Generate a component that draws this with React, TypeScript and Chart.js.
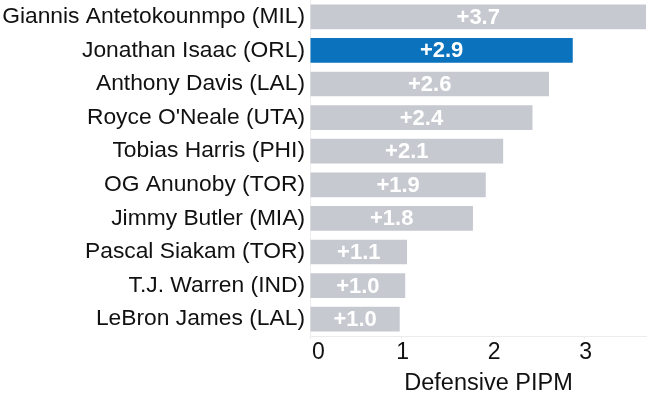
import React, { useEffect, useRef } from "react";
import { Chart, registerables } from "chart.js";

Chart.register(...registerables);

const players = [
  "Giannis Antetokounmpo (MIL)",
  "Jonathan Isaac (ORL)",
  "Anthony Davis (LAL)",
  "Royce O'Neale (UTA)",
  "Tobias Harris (PHI)",
  "OG Anunoby (TOR)",
  "Jimmy Butler (MIA)",
  "Pascal Siakam (TOR)",
  "T.J. Warren (IND)",
  "LeBron James (LAL)",
];
const dpipm = [3.7, 2.87, 2.61, 2.43, 2.11, 1.92, 1.78, 1.06, 1.04, 0.98];
const highlight = "Jonathan Isaac (ORL)";
const axisTitle = "Defensive PIPM";
const xMax = 3.67;

const GREY = "rgb(198,201,207)";
const BLUE = "rgb(11,114,190)";
const FONT = "'Liberation Sans', Arial, sans-serif";
const TEXT = "#111111";

const labelPlugin = {
  id: "barLabels",
  afterDatasetsDraw(chart: any) {
    const ctx = chart.ctx;
    const meta = chart.getDatasetMeta(0);
    const area = chart.chartArea;
    ctx.save();
    ctx.font = `bold 22px ${FONT}`;
    ctx.fillStyle = "#ffffff";
    ctx.textAlign = "center";
    ctx.textBaseline = "middle";
    meta.data.forEach((bar: any, i: number) => {
      const v = dpipm[i];
      const end = Math.min(bar.x, area.right);
      const cx = (end + bar.base) / 2;
      ctx.fillText("+" + v.toFixed(1), cx, bar.y + 1);
    });
    ctx.restore();
  },
};

const xAxisTextPlugin = {
  id: "xAxisText",
  afterDraw(chart: any) {
    const ctx = chart.ctx;
    const sx = chart.scales.x;
    ctx.save();
    ctx.font = `23px ${FONT}`;
    ctx.fillStyle = TEXT;
    ctx.textBaseline = "middle";
    sx.ticks.forEach((t: any, i: number) => {
      const px = sx.getPixelForValue(t.value);
      if (i === 0) {
        ctx.textAlign = "left";
        ctx.fillText(String(t.value), px + 2, sx.top + 17);
      } else {
        ctx.textAlign = "center";
        ctx.fillText(String(t.value), px + 1, sx.top + 17);
      }
    });
    // axis title, centred a little right of the plot centre as in the source
    ctx.font = `23.5px ${FONT}`;
    ctx.textAlign = "center";
    const mid = sx.getPixelForValue(1.95);
    ctx.fillText(axisTitle, mid, sx.top + 48);
    ctx.restore();
  },
};

export default function App() {
  const ref = useRef<HTMLCanvasElement>(null);
  useEffect(() => {
    if (!ref.current) return;
    const chart = new Chart(ref.current, {
      type: "bar",
      data: {
        labels: players,
        datasets: [
          {
            data: dpipm,
            backgroundColor: players.map((p) => (p === highlight ? BLUE : GREY)),
            borderWidth: 0,
            barPercentage: 0.735,
            categoryPercentage: 1,
          },
        ],
      },
      options: {
        indexAxis: "y",
        animation: false,
        responsive: false,
        maintainAspectRatio: false,
        layout: { padding: { top: 0, right: 4, left: 0, bottom: 0 } },
        plugins: { legend: { display: false }, tooltip: { enabled: false } },
        scales: {
          x: {
            min: 0,
            max: xMax,
            grid: {
              display: true,
              drawOnChartArea: false,
              drawTicks: true,
              tickLength: 3,
              color: "#ececec",
            },
            border: { display: true, color: "#ececec", width: 1 },
            ticks: {
              stepSize: 1,
              includeBounds: false,
              autoSkip: false,
              color: "rgba(0,0,0,0)",
              font: { size: 23, family: FONT },
              padding: 1,
            },
            title: { display: false },
            afterFit: (s: any) => {
              s.height = 63;
            },
          },
          y: {
            grid: { display: false, drawTicks: false },
            border: { display: true, color: "#ececec", width: 1 },
            ticks: {
              color: TEXT,
              font: { size: 22.8, family: FONT },
              padding: 5,
              autoSkip: false,
            },
            afterFit: (s: any) => {
              s.width = 310;
              s.paddingTop = 0;
              s.paddingBottom = 0;
            },
          },
        },
      },
      plugins: [labelPlugin, xAxisTextPlugin],
    });
    return () => chart.destroy();
  }, []);
  return (
    <div style={{ position: "fixed", left: 0, top: 0, width: 650, height: 399, background: "#fff" }}>
      <canvas ref={ref} width={650} height={399} style={{ width: 650, height: 399 }} />
    </div>
  );
}
